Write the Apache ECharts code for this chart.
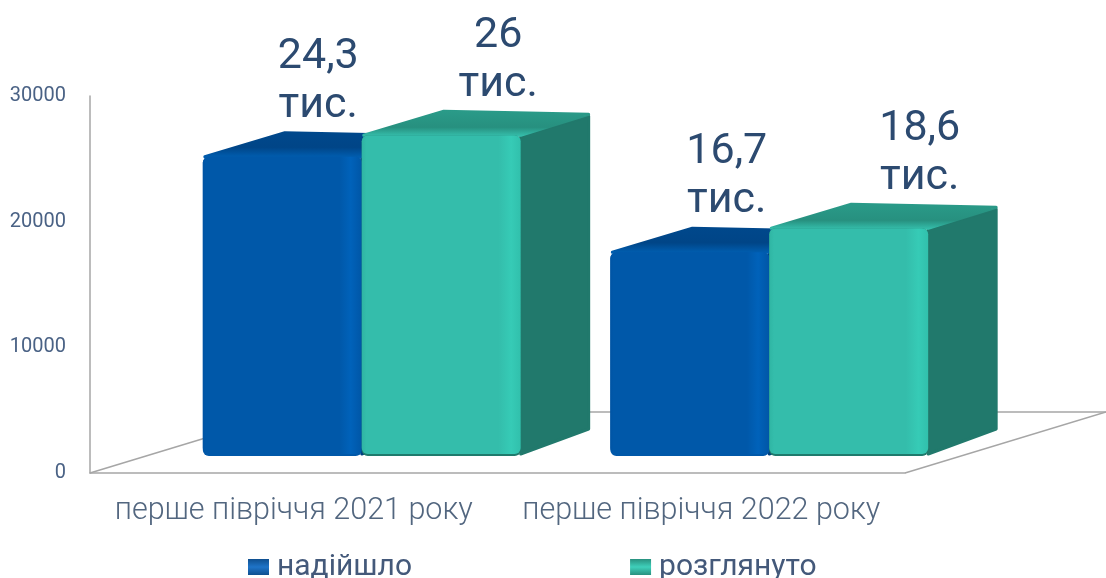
<!DOCTYPE html>
<html>
<head>
<meta charset="utf-8">
<style>
  html, body { margin: 0; padding: 0; background: #fff; }
  #chart { width: 1106px; height: 578px; }
</style>
<script src="https://cdn.jsdelivr.net/npm/echarts@6/dist/echarts.min.js"></script>
</head>
<body>
<div id="chart"></div>
<script>
  const categories = ['перше півріччя 2021 року', 'перше півріччя 2022 року'];
  const arrived = [24300, 16700];
  const reviewed = [26000, 18600];
  const arrivedLabels = ['24,3\nтис.', '16,7\nтис.'];
  const reviewedLabels = ['26\nтис.', '18,6\nтис.'];
  const yTicks = [0, 10000, 20000, 30000];

  const chart = echarts.init(document.getElementById('chart'));
  const LG = echarts.graphic.LinearGradient;

  // look of the fake 3d box, per series
  const blue = {
    slot: -1,
    labelShift: [36, 37],
    front: new LG(0, 0, 1, 0, [
      {offset: 0, color: '#0054a4'}, {offset: 0.02, color: '#0058a9'},
      {offset: 0.86, color: '#0058a9'}, {offset: 0.93, color: '#0062ba'},
      {offset: 1, color: '#0056a6'}
    ]),
    top: new LG(0, 0, 0, 1, [
      {offset: 0, color: '#00488c'}, {offset: 0.6, color: '#004587'},
      {offset: 1, color: '#0060b4'}
    ]),
    side: '#00407e',
    edge: '#0058a9'
  };
  const teal = {
    slot: 0,
    labelShift: [57, 71],
    front: new LG(0, 0, 1, 0, [
      {offset: 0, color: '#2fb5a3'}, {offset: 0.03, color: '#34bdab'},
      {offset: 0.86, color: '#34bdab'}, {offset: 0.94, color: '#36cbb6'},
      {offset: 1, color: '#31c0ac'}
    ]),
    top: new LG(0, 0, 0, 1, [
      {offset: 0, color: '#2a9b89'}, {offset: 0.65, color: '#27907f'},
      {offset: 1, color: '#36c2af'}
    ]),
    side: '#21796c',
    edge: '#1f7a6c'
  };

  // bars stand inside the floor: foot cut off above the front edge, top lifted by the depth
  function boxItem(look, labels) {
    return function (params, api) {
      const idx = api.value(0);
      const zero = api.coord([idx, 0]);
      const tip = api.coord([idx, api.value(1)]);
      const w = api.size([1, 0])[0] * 0.39;
      const base = zero[1] - 19;
      const top = tip[1] - 11;
      const x = zero[0] + 68 + look.slot * w;
      const h = base - top;
      const children = [];
      children.push({
        type: 'polygon',
        shape: {points: [[x + w, top], [x + w + 68, top - 19], [x + w + 68, base - 25], [x + w, base]]},
        style: {fill: look.side, stroke: look.side, lineWidth: 3, lineJoin: 'round'}
      });
      children.push({
        type: 'polygon',
        shape: {points: [[x + 2, top], [x + 82, top - 24], [x + w + 68, top - 21], [x + w, top]]},
        style: {fill: look.top, stroke: look.top, lineWidth: 3, lineJoin: 'round'}
      });
      children.push({
        type: 'rect',
        shape: {x: x, y: top, width: w, height: h + 2, r: 6},
        style: {fill: look.edge}
      });
      children.push({
        type: 'rect',
        shape: {x: x, y: top, width: w, height: h, r: 6},
        style: {fill: look.front}
      });
      children.push({
        type: 'text',
        z2: 10,
        style: {
          text: labels[idx],
          x: x + w / 2 + look.labelShift[idx],
          y: top - 124,
          font: '43px Roboto, sans-serif',
          fill: '#2c4a70',
          align: 'center',
          verticalAlign: 'top',
          lineHeight: 49
        }
      });
      return {type: 'group', children: children};
    };
  }

  function floorItem(params, api) {
    const a = api.coord([0, 0]);
    const size = api.size([1, 0])[0];
    const right = a[0] - size / 2 + size * 2;
    const left = a[0] - size / 2;
    const dx = 201, dy = -61;
    const line = {stroke: '#a6a6a6', lineWidth: 1.5};
    const seg = (x1, y1, x2, y2) => ({type: 'line', shape: {x1, y1, x2, y2}, style: line});
    return {
      type: 'group',
      children: [
        seg(left, a[1], left + dx, a[1] + dy),
        seg(left + dx, a[1] + dy, right + dx, a[1] + dy),
        seg(right, a[1], right + dx, a[1] + dy)
      ]
    };
  }

  const option = {
    animation: false,
    backgroundColor: '#fff',
    textStyle: {fontFamily: 'Roboto, sans-serif'},
    grid: {left: 90, right: 201, top: 96, bottom: 105, containLabel: false},
    legend: {
      left: 248,
      top: 552,
      padding: 0,
      itemWidth: 21,
      itemHeight: 16,
      itemGap: 218,
      icon: 'rect',
      textStyle: {fontSize: 30, color: '#44597a', fontFamily: 'Roboto, sans-serif', padding: [0, 0, 0, 3]},
      data: ['надійшло', 'розглянуто']
    },
    xAxis: {
      type: 'category',
      data: categories,
      axisTick: {show: false},
      axisLine: {lineStyle: {color: '#a6a6a6', width: 1.5}},
      axisLabel: {fontSize: 30.5, color: '#52667f', margin: 23, fontWeight: 300, interval: 0}
    },
    yAxis: {
      type: 'value',
      min: yTicks[0],
      max: yTicks[yTicks.length - 1],
      interval: yTicks[1] - yTicks[0],
      splitLine: {show: false},
      axisTick: {show: false},
      axisLine: {show: true, lineStyle: {color: '#a6a6a6', width: 1.5}},
      axisLabel: {fontSize: 20, color: '#4a6285', margin: 24, padding: [5, 0, 0, 0], formatter: (v) => String(v)}
    },
    series: [
      {
        name: 'підлога',
        type: 'custom',
        z: 1,
        silent: true,
        renderItem: floorItem,
        data: [[0, 0]]
      },
      {
        name: 'надійшло',
        type: 'custom',
        z: 2,
        renderItem: boxItem(blue, arrivedLabels),
        itemStyle: {
          color: new LG(0, 0, 0, 1, [
            {offset: 0, color: '#0f4f8f'}, {offset: 0.5, color: '#1f74c8'}, {offset: 1, color: '#0f4f8f'}
          ])
        },
        encode: {x: 0, y: 1},
        data: arrived.map((v, i) => [i, v])
      },
      {
        name: 'розглянуто',
        type: 'custom',
        z: 3,
        renderItem: boxItem(teal, reviewedLabels),
        itemStyle: {
          color: new LG(0, 0, 0, 1, [
            {offset: 0, color: '#29917f'}, {offset: 0.5, color: '#3fd0bb'}, {offset: 1, color: '#29917f'}
          ])
        },
        encode: {x: 0, y: 1},
        data: reviewed.map((v, i) => [i, v])
      }
    ]
  };

  chart.setOption(option);
</script>
</body>
</html>
